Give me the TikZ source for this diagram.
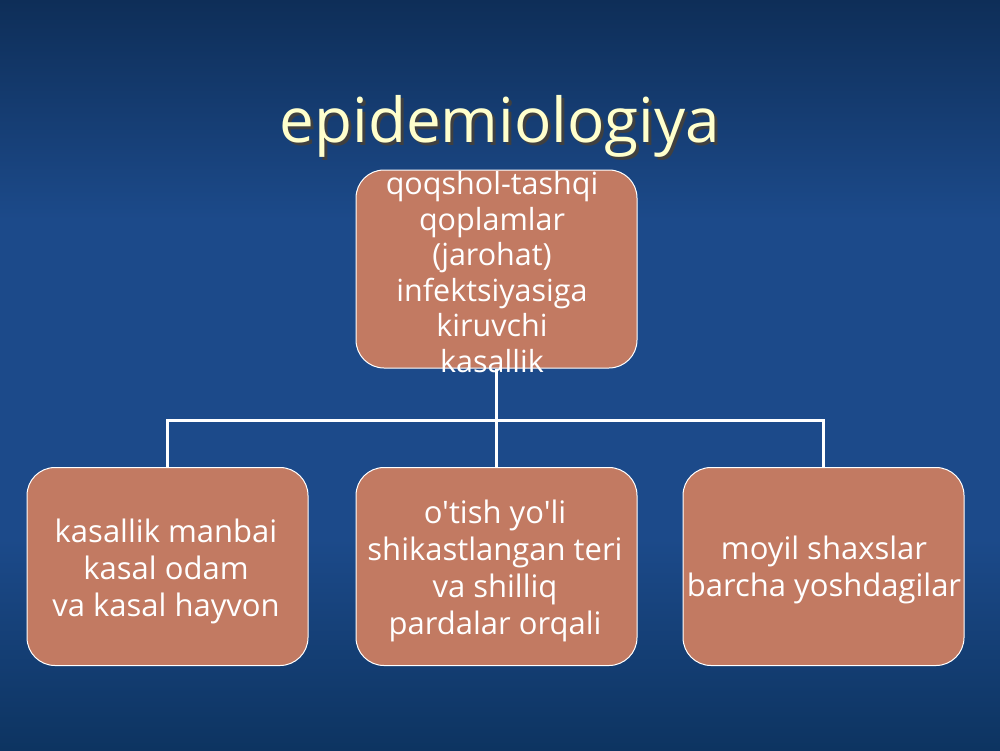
\documentclass[tikz,border=0pt]{standalone}
\usepackage{fontspec}
\setmainfont{Open Sans}[Ligatures=TeXOff]
\definecolor{bgtop}{HTML}{0E2E58}
\definecolor{bgmid}{HTML}{1C4A8A}
\definecolor{bgbot}{HTML}{0D3461}
\definecolor{boxfill}{HTML}{C27A62}
\definecolor{titlecol}{HTML}{FFFFCC}
\begin{document}
\begin{tikzpicture}[x=1pt,y=-1pt,
  box/.style={draw=white, line width=1pt, fill=boxfill, rounded corners=28pt,
    minimum width=281pt, minimum height=198pt, inner sep=0pt},
  boxtext/.style={text=white, align=center, font=\fontsize{31}{37}\selectfont},
  toptext/.style={text=white, align=center, font=\fontsize{30.5}{35.5}\selectfont},
  conn/.style={draw=white, line width=3pt}]
\useasboundingbox (0,0) rectangle (1000,750);
\shade[top color=bgtop, bottom color=bgmid] (0,0) rectangle (1000,220);
\fill[bgmid] (0,219) rectangle (1000,540);
\shade[top color=bgmid, bottom color=bgbot] (0,539) rectangle (1000,750);
% title
\node[text=black!75, font=\fontsize{62}{64}\selectfont] at (503,129) {epidemiologiya};
\node (title) [text=titlecol, font=\fontsize{62}{64}\selectfont] at (500,126) {epidemiologiya};
% boxes
\node (top) [box] at (496.5,269) {};
\node (left) [box] at (167.5,566.5) {};
\node (mid) [box] at (496.5,566.5) {};
\node (right) [box] at (823.5,566.5) {};
% connectors
\coordinate (bus) at (496.5,420);
\draw[conn] (top.south) -- (bus);
\draw[conn] (left.north) |- (bus) -| (right.north);
\draw[conn] (bus) -- (mid.north);
% texts
\node[toptext] at (492,272) {qoqshol-tashqi\\qoplamlar\\ (jarohat)\\infektsiyasiga \\kiruvchi\\ kasallik};
\node[boxtext] at (166,571) { kasallik manbai\\kasal odam \\va kasal hayvon };
\node[boxtext] at (495,571) {o'tish yo'li \\shikastlangan teri\\va shilliq\\pardalar orqali};
\node[boxtext] at (824,570) {moyil shaxslar\\barcha yoshdagilar};
\end{tikzpicture}
\end{document}
